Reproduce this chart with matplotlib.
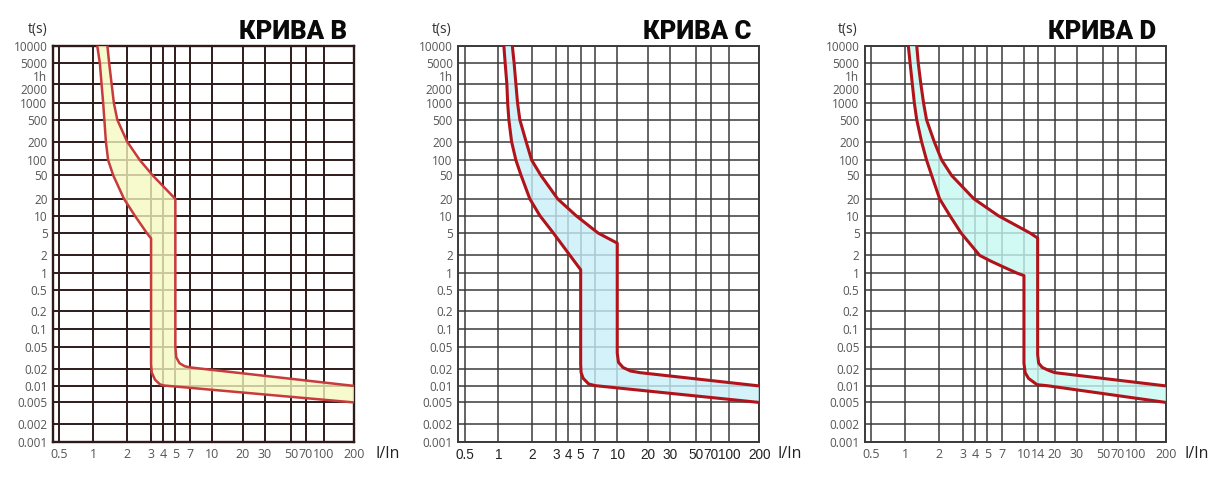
import numpy as np
import matplotlib
matplotlib.use('Agg')
import matplotlib.pyplot as plt
from matplotlib.ticker import FixedLocator, FixedFormatter

plt.rcParams['font.family'] = ['Open Sans', 'DejaVu Sans']

# grid values on both axes
x_grid = [0.5, 1, 2, 3, 4, 5, 7, 10, 20, 30, 50, 70, 100, 200]
x_grid_d = [0.5, 1, 2, 3, 4, 5, 7, 10, 14, 20, 30, 50, 70, 100, 200]
y_grid = [10000, 5000, 2000, 1000, 500, 200, 100, 50, 20, 10, 5, 2, 1,
          0.5, 0.2, 0.1, 0.05, 0.02, 0.01, 0.005, 0.002, 0.001]
y_labels = ['10000', '5000', '2000', '1000', '500', '200', '100', '50',
            '20', '10', '5', '2', '1', '0.5', '0.2', '0.1', '0.05', '0.02',
            '0.01', '0.005', '0.002', '0.001']
hour_tick = [3600]
hour_label = ['1h']

# крива B
b_fast_i = [1.09, 1.15, 1.19, 1.23, 1.26, 1.30, 1.36, 1.51, 1.88, 2.28, 2.79, 3.0,
            3.0, 3.05, 3.3, 3.7, 4.0, 200]
b_fast_t = [10000, 5000, 2000, 1000, 500, 200, 100, 50, 20, 10, 5, 4,
            0.024, 0.017, 0.0128, 0.0107, 0.0102, 0.005]
b_slow_i = [1.34, 1.39, 1.46, 1.53, 1.64, 2.0, 2.48, 3.12, 5.0,
            5.0, 5.1, 5.5, 6.2, 7.0, 200]
b_slow_t = [10000, 5000, 2000, 1000, 500, 200, 100, 50, 20,
            0.05, 0.032, 0.025, 0.022, 0.021, 0.01]

# крива C
c_fast_i = [1.12, 1.15, 1.19, 1.21, 1.24, 1.31, 1.43, 1.59, 1.9, 2.27, 2.85, 4.12, 5.0,
            5.0, 5.05, 5.3, 6.0, 7.0, 200]
c_fast_t = [10000, 5000, 2000, 1000, 500, 200, 100, 50, 20, 10, 5, 2, 1.14,
            0.024, 0.017, 0.0135, 0.0108, 0.0101, 0.005]
c_slow_i = [1.33, 1.38, 1.43, 1.48, 1.55, 1.76, 1.97, 2.31, 3.1, 4.6, 7.3, 10,
            10, 10.3, 11.5, 13.8, 16.9, 200]
c_slow_t = [10000, 5000, 2000, 1000, 500, 200, 100, 50, 20, 10, 5, 3.3,
            0.038, 0.026, 0.021, 0.0182, 0.017, 0.01]

# крива D
d_fast_i = [1.07, 1.11, 1.16, 1.21, 1.27, 1.40, 1.55, 1.72, 2.02, 2.4, 2.9, 3.5, 4.35, 5.4, 7.0,
            8.9, 10, 10, 10.3, 11.2, 13.8, 17, 200]
d_fast_t = [10000, 5000, 2000, 1000, 500, 200, 100, 50, 20, 10, 5, 3.3, 2, 1.6, 1.3,
            1.0, 0.9, 0.025, 0.017, 0.0135, 0.0105, 0.0101, 0.005]
d_slow_i = [1.27, 1.31, 1.38, 1.46, 1.55, 1.81, 2.09, 2.47, 3.9, 6.4, 11.6, 14,
            14, 14.3, 15.4, 17.7, 20, 200]
d_slow_t = [10000, 5000, 2000, 1000, 500, 200, 100, 50, 20, 10, 5, 4.07,
            0.036, 0.025, 0.021, 0.0185, 0.017, 0.01]

# the printed paper is not a clean log grid: where each grid value sits (px)
x_knot_vals = [0.44, 0.5, 1, 2, 3, 4, 5, 7, 10, 14, 20, 30, 50, 70, 100, 200]
x_knot_pos = [0, 6.3, 40, 74.1, 98.1, 110.1, 122.4, 137.2, 159, 172.7, 189.9,
              211.6, 237.9, 252.7, 270.7, 301.1]
y_knot_vals = [0.001, 0.002, 0.005, 0.01, 0.02, 0.05, 0.1, 0.2, 0.5, 1, 2, 5, 10,
               20, 50, 100, 200, 500, 1000, 2000, 3600, 5000, 10000]
y_knot_pos = [0, 17.5, 39.2, 55.7, 73, 95, 112.7, 130.5, 151.7, 168.4, 186, 208.4,
              225.7, 242.4, 265.9, 281.2, 299.7, 321.4, 338, 357.4, 365.5, 377.9, 395.4]


def make_scale(vals, pos):
    lv = np.log10(np.asarray(vals, float))
    p = np.asarray(pos, float)
    s0 = (p[1] - p[0]) / (lv[1] - lv[0])
    s1 = (p[-1] - p[-2]) / (lv[-1] - lv[-2])
    lv = np.r_[lv[0] - 20, lv, lv[-1] + 20]
    p = np.r_[p[0] - 20 * s0, p, p[-1] + 20 * s1]

    def fwd(v):
        v = np.clip(np.asarray(v, float), 1e-30, None)
        return np.interp(np.log10(v), lv, p)

    def inv(q):
        return 10 ** np.interp(np.asarray(q, float), p, lv)
    return fwd, inv


x_fwd, x_inv = make_scale(x_knot_vals, x_knot_pos)
y_fwd, y_inv = make_scale(y_knot_vals, y_knot_pos)

panels = [
    dict(name='КРИВА B', fast=(b_fast_i, b_fast_t), slow=(b_slow_i, b_slow_t), xg=x_grid,
         left=53, fill='#f6f9c0', line='#c83a3c', lw=1.8, grid='#2e1a1a', glw=1.4,
         xfs=9, xcol='#555555', xfam='Open Sans', title_x=0.977, ilx=1.113, tsx=-0.052),
    dict(name='КРИВА C', fast=(c_fast_i, c_fast_t), slow=(c_slow_i, c_slow_t), xg=x_grid,
         left=458.3, fill='#c9eff9', line='#b0141a', lw=2.2, grid='#3a3a3a', glw=1.1,
         xfs=9.8, xcol='#222222', xfam='Liberation Sans', title_x=0.975, ilx=1.102, tsx=-0.055),
    dict(name='КРИВА D', fast=(d_fast_i, d_fast_t), slow=(d_slow_i, d_slow_t), xg=x_grid_d,
         left=865, fill='#c6f9f3', line='#b0141a', lw=2.2, grid='#3a3a3a', glw=1.1,
         xfs=9, xcol='#555555', xfam='Open Sans', title_x=0.966, ilx=1.103, tsx=-0.058),
]

W, H = 1230, 498
fig = plt.figure(figsize=(W / 100, H / 100), dpi=100)

for pn in panels:
    ax = fig.add_axes([pn['left'] / W, 1 - 441.7 / H, 301 / W, 396 / H])
    ax.set_xscale('function', functions=(x_fwd, x_inv))
    ax.set_yscale('function', functions=(y_fwd, y_inv))
    ax.set_xlim(0.44, 200)
    ax.set_ylim(0.001, 10000)

    ax.xaxis.set_major_locator(FixedLocator(pn['xg']))
    ax.xaxis.set_major_formatter(FixedFormatter([f'{v:g}' for v in pn['xg']]))
    ax.xaxis.set_minor_locator(FixedLocator([]))
    ax.yaxis.set_major_locator(FixedLocator(y_grid))
    ax.yaxis.set_major_formatter(FixedFormatter(y_labels))
    ax.yaxis.set_minor_locator(FixedLocator(hour_tick))
    ax.yaxis.set_minor_formatter(FixedFormatter(hour_label))

    ax.tick_params(axis='both', which='both', length=0)
    ax.tick_params(axis='y', which='both', labelsize=8.5, labelcolor='#555555', pad=4)
    ax.tick_params(axis='x', labelsize=pn['xfs'], labelcolor=pn['xcol'], pad=4.5)
    for tk in ax.xaxis.get_major_ticks(len(pn['xg'])):
        tk.label1.set_fontfamily([pn['xfam'], 'DejaVu Sans'])
    # the 2000 label sits a little under its line on the paper
    ticks = ax.yaxis.get_major_ticks(len(y_grid))
    ticks[y_grid.index(2000)].label1.set_verticalalignment('top')

    ax.grid(False)
    ax.grid(True, which='major', color=pn['grid'], lw=pn['glw'])
    ax.set_axisbelow(True)
    for s in ax.spines.values():
        s.set_color(pn['grid'])
        s.set_linewidth(pn['glw'] + 0.3)
        s.set_zorder(0.6)

    fi, ft = pn['fast']
    si, st = pn['slow']
    ax.fill(np.r_[fi, si[::-1]], np.r_[ft, st[::-1]], color=pn['fill'],
            alpha=0.78, lw=0, zorder=1)
    for ci, ct in (pn['fast'], pn['slow']):
        ax.plot(ci, ct, color=pn['line'], lw=pn['lw'], solid_joinstyle='round',
                solid_capstyle='butt', zorder=3, clip_on=False)

    ax.text(pn['title_x'], 1.035, pn['name'], transform=ax.transAxes, ha='right',
            va='center', fontsize=18.5, fontweight='black',
            family=['Roboto', 'DejaVu Sans'], color='#0a0a0a')
    ax.text(pn['tsx'], 1.04, 't(s)', transform=ax.transAxes, ha='center',
            va='center', fontsize=10, color='#333333')
    ax.text(pn['ilx'], -0.032, 'I/In', transform=ax.transAxes, ha='center',
            va='center', fontsize=11.5, color='#222222')

fig.savefig('out.png', dpi=100, facecolor='white')
